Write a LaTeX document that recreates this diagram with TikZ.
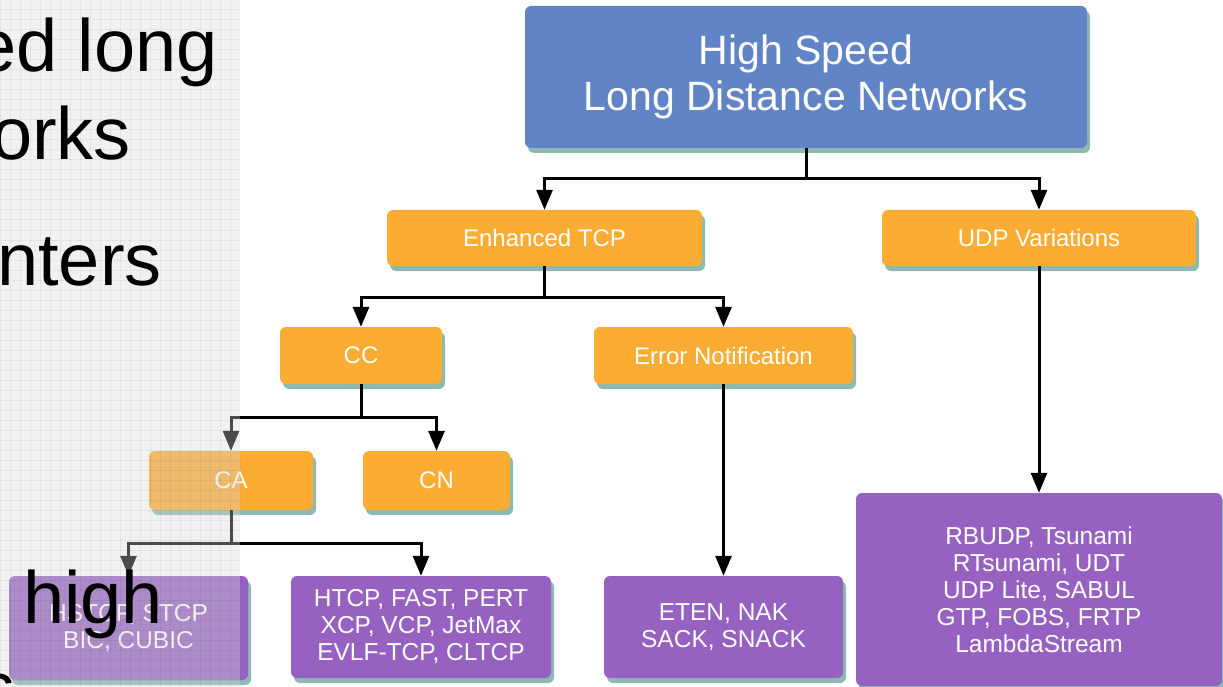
\documentclass[tikz,border=0pt]{standalone}
\usepackage{fontspec}
\setmainfont{Liberation Sans}
\usetikzlibrary{arrows.meta,shadows,calc}

\definecolor{hdrblue}{RGB}{96,132,198}
\definecolor{boxorange}{RGB}{251,172,51}
\definecolor{boxpurple}{RGB}{151,97,193}
\definecolor{boxshadow}{RGB}{140,185,180}
\definecolor{panelgray}{RGB}{215,215,215}

\tikzset{
  box/.style={rectangle, rounded corners=6pt, text=white, align=center, inner sep=0pt,
    drop shadow={shadow xshift=3pt, shadow yshift=-5pt, fill=boxshadow, opacity=1}},
  hdrbox/.style={box, fill=hdrblue, font=\fontsize{41}{46}\selectfont},
  catbox/.style={box, fill=boxorange, font=\fontsize{24}{27}\selectfont},
  protobox/.style={box, fill=boxpurple, font=\fontsize{24.5}{27}\selectfont},
  link/.style={line width=3pt, black},
  arr/.style={link, -{Triangle[length=20pt,width=16pt]}},
  slidetext/.style={anchor=base west, inner sep=0pt, text=black, font=\fontsize{74}{80}\selectfont},
  gridline/.style={black, opacity=0.05, line width=1pt}
}

\begin{document}
\begin{tikzpicture}[x=1pt,y=-1pt]
\useasboundingbox (0,0) rectangle (1223,687);
\clip (0,0) rectangle (1223,687);

% taxonomy boxes
\node[hdrbox, minimum width=562pt, minimum height=142pt] (top) at (806,77) {High Speed\\Long Distance Networks};
\node[catbox, minimum width=315pt, minimum height=56pt] (etcp) at (544.5,238) {Enhanced TCP};
\node[catbox, minimum width=314pt, minimum height=56pt] (udp) at (1039,238) {UDP Variations};
\node[catbox, minimum width=162pt, minimum height=57pt] (cc) at (361,355.5) {CC};
\node[catbox, minimum width=259pt, minimum height=57pt] (err) at (723.5,355.5) {Error Notification};
\node[catbox, minimum width=164pt, minimum height=59pt] (ca) at (231,480.5) {CA};
\node[catbox, minimum width=147pt, minimum height=59pt] (cn) at (436.5,480.5) {CN};
\node[protobox, minimum width=239pt, minimum height=104pt] (hstcp) at (128.5,628) {HSTCP, STCP\\BIC, CUBIC};
\node[protobox, minimum width=260pt, minimum height=102pt] (htcp) at (421,627) {HTCP, FAST, PERT\\XCP, VCP, JetMax\\EVLF-TCP, CLTCP};
\node[protobox, minimum width=239pt, minimum height=102pt] (eten) at (723.5,627) {ETEN, NAK\\SACK, SNACK};
\node[protobox, minimum width=366pt, minimum height=193pt] (rbudp) at (1039,589.5) {RBUDP, Tsunami\\RTsunami, UDT\\UDP Lite, SABUL\\GTP, FOBS, FRTP\\LambdaStream};

% branching connectors
\coordinate (j1) at ($(top.south)+(0,30)$);
\coordinate (j2) at ($(etcp.south)+(0,31)$);
\coordinate (j3) at ($(cc.south)+(0,33)$);
\coordinate (j4) at ($(ca.south)+(0,33)$);

\draw[link] (top.south) -- (j1);
\draw[arr] (j1) -| (etcp.north);
\draw[arr] (j1) -| (udp.north);

\draw[link] (etcp.south) -- (j2);
\draw[arr] (j2) -| (cc.north);
\draw[arr] (j2) -| (err.north);

\draw[link] (cc.south) -- (j3);
\draw[arr] (j3) -| (ca.north);
\draw[arr] (j3) -| (cn.north);

\draw[link] (ca.south) -- (j4);
\draw[arr] (j4) -| (hstcp.north);
\draw[arr] (j4) -| (htcp.north);

\draw[arr] (err.south) -- (eten.north);
\draw[arr] (udp.south) -- (rbudp.north);

% translucent gridded panel on the left
\begin{scope}
  \clip (0,0) rectangle (240,687);
  \fill[panelgray, opacity=0.35] (0,0) rectangle (240,687);
  \foreach \g in {0,10,...,240} \draw[gridline] (\g,0) -- (\g,687);
  \foreach \g in {0,10,...,680} \draw[gridline] (0,\g) -- (240,\g);
\end{scope}

% large slide text
\node[slidetext] (l1) at (-25,72) {ed long};
\node[slidetext] (l2) at (-9,160) {orks};
\node[slidetext] (l3) at (-3,285) {nters};
\node[slidetext] (l4) at (23,623) {high};
\node[slidetext] (l5) at (-22,713) {s};
\end{tikzpicture}
\end{document}
